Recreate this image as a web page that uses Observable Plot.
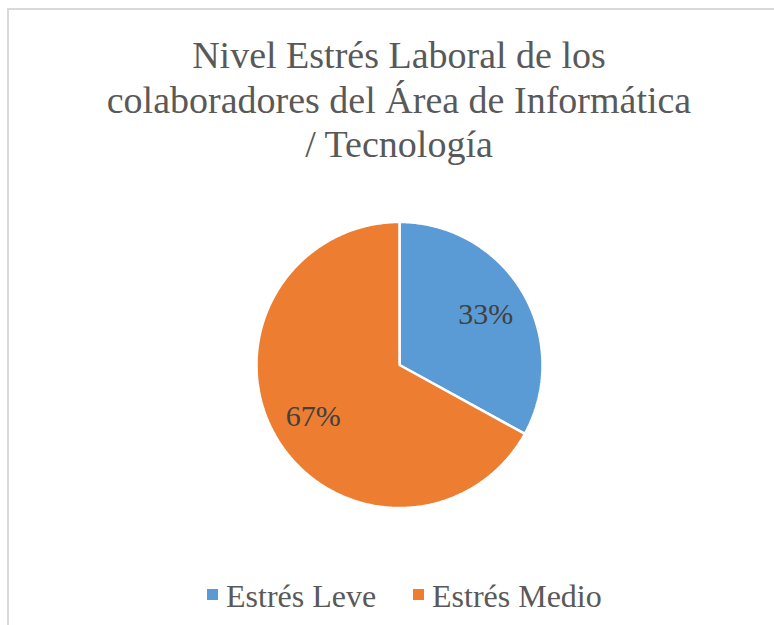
<!DOCTYPE html>
<html>
<head>
<meta charset="utf-8">
<script src="https://cdn.jsdelivr.net/npm/d3@7"></script>
<script src="https://cdn.jsdelivr.net/npm/@observablehq/plot@0.6"></script>
<style>
  html, body { margin: 0; padding: 0; background: #fff; }
  body { width: 774px; height: 625px; position: relative; overflow: hidden; }
  #frame { position: absolute; left: 7px; top: 8px; width: 820px; height: 700px; border: 2px solid #d9d9d9; box-sizing: border-box; }
  #title { position: absolute; left: 0; top: 33px; width: 798px; text-align: center; color: #595959; font-size: 38px; line-height: 44.5px; font-family: 'Liberation Serif', serif !important; }
  #chart { position: absolute; left: 0; top: 180px; }
  #chart svg text { font-family: 'Liberation Serif', serif !important; }
  .lg-sw { position: absolute; width: 11px; height: 11px; }
  .lg-tx { position: absolute; color: #595959; font-size: 32px; line-height: 32px; white-space: nowrap; font-family: 'Liberation Serif', serif !important; }
</style>
</head>
<body>
<div id="frame"></div>
<div id="title" style="font-family:'Liberation Serif',serif">Nivel Estrés Laboral de los<br>colaboradores del Área de Informática<br>/ Tecnología</div>
<div id="chart"></div>
<div id="legend"></div>
<script>
const categories = ["Estrés Leve", "Estrés Medio"];
const values = [33, 67];
const labels = ["33%", "67%"];
const colors = ["#5B9BD5", "#ED7D31"];

const W = 774, H = 350;
const cx = 399, cy = 184.5, R = 143;

const pie = d3.pie().sort(null).value(d => d.value);
const arcs = pie(categories.map((c, i) => ({ key: c, value: values[i], label: labels[i] })));

// polygon points for each slice (unit circle; angle 0 = 12 o'clock, clockwise)
const pts = [];
for (const a of arcs) {
  pts.push({ key: a.data.key, x: 0, y: 0 });
  const n = Math.max(2, Math.ceil((a.endAngle - a.startAngle) / 0.01));
  for (let k = 0; k <= n; k++) {
    const t = a.startAngle + (a.endAngle - a.startAngle) * k / n;
    pts.push({ key: a.data.key, x: Math.sin(t), y: Math.cos(t) });
  }
}
const lab = arcs.map(a => {
  const m = (a.startAngle + a.endAngle) / 2;
  return { label: a.data.label, x: 0.7 * Math.sin(m), y: 0.7 * Math.cos(m) };
});

const chart = Plot.plot({
  width: W,
  height: H,
  margin: 0,
  x: { domain: [-1, 1], range: [cx - R, cx + R], axis: null },
  y: { domain: [-1, 1], range: [cy + R, cy - R], axis: null },
  color: { domain: categories, range: colors },
  style: { background: "transparent", overflow: "visible" },
  marks: [
    Plot.line(pts, { x: "x", y: "y", z: "key", fill: "key", stroke: "white", strokeWidth: 2.5, strokeLinejoin: "miter", curve: "linear-closed" }),
    Plot.text(lab, { x: "x", y: "y", text: "label", fill: "#404040", fontSize: 30, fontFamily: "'Liberation Serif', serif" })
  ]
});
document.getElementById("chart").appendChild(chart);

// legend
const legend = document.getElementById("legend");
const legendX = [207, 413];
categories.forEach((c, i) => {
  const sw = document.createElement("div");
  sw.className = "lg-sw";
  sw.style.left = legendX[i] + "px";
  sw.style.top = "589px";
  sw.style.background = colors[i];
  legend.appendChild(sw);
  const tx = document.createElement("div");
  tx.className = "lg-tx";
  tx.style.left = (legendX[i] + 19) + "px";
  tx.style.top = "580px";
  tx.textContent = c;
  legend.appendChild(tx);
});
</script>
</body>
</html>
